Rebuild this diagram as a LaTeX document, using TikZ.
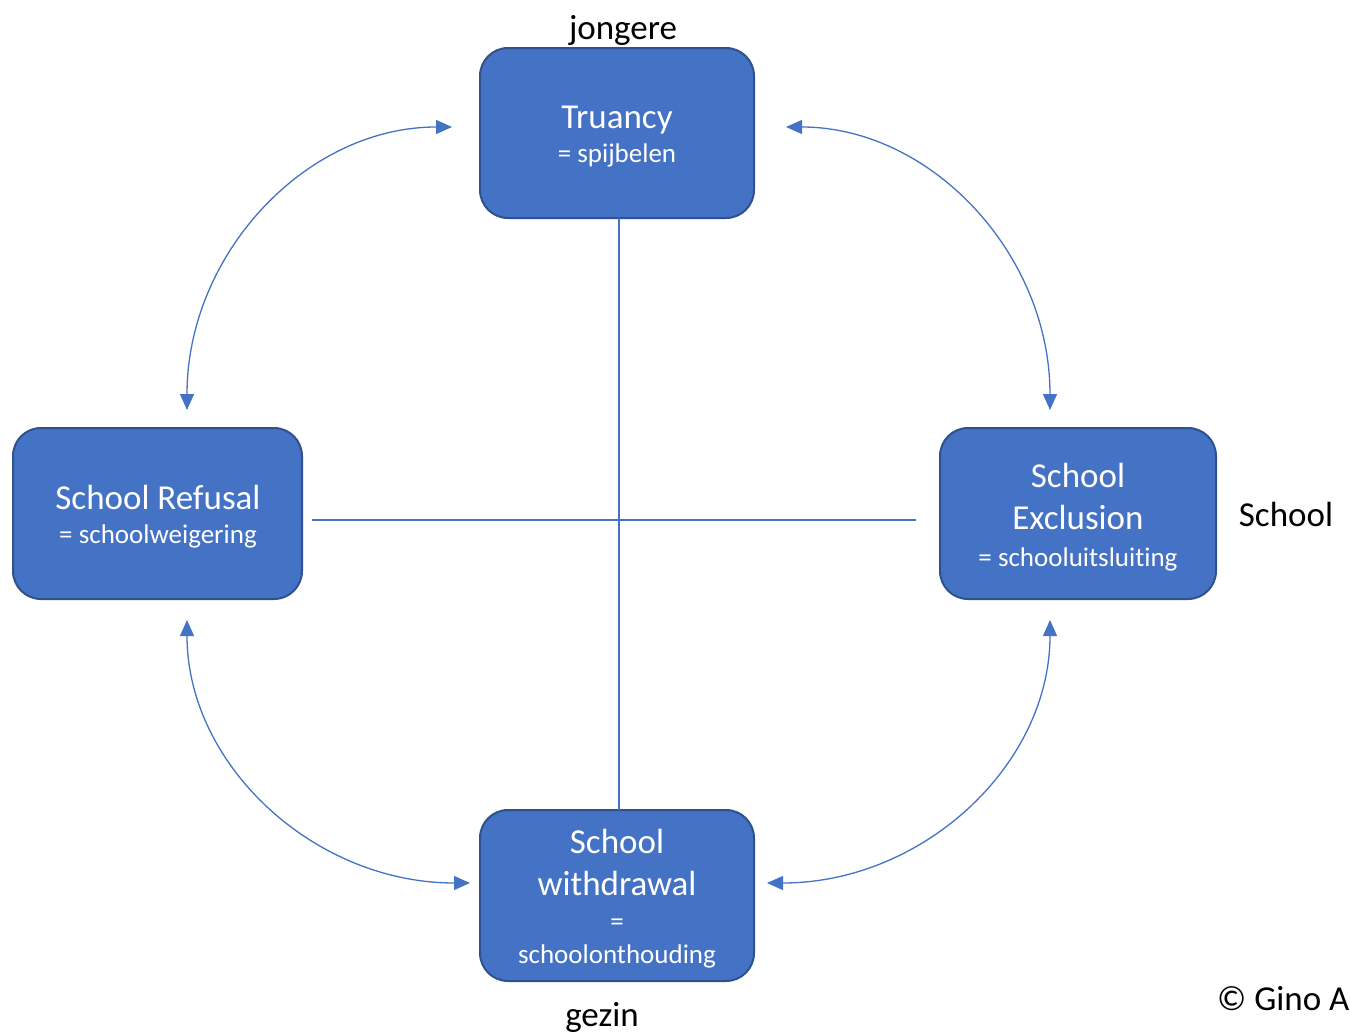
\documentclass[tikz,border=0pt]{standalone}
\usepackage{fontspec}
\setmainfont[Ligatures=NoCommon]{Carlito}
\usetikzlibrary{arrows.meta,calc}
\definecolor{boxblue}{HTML}{4472C4}
\definecolor{boxedge}{HTML}{2F528F}
\tikzset{
  box/.style={draw=boxedge, line width=2pt, fill=boxblue, rounded corners=28pt, inner sep=0pt},
  ttl/.style={text=white, anchor=base, inner sep=0pt, font=\fontsize{35}{42}\selectfont},
  sub/.style={text=white, anchor=base, inner sep=0pt, font=\fontsize{27}{32}\selectfont},
  lbl/.style={text=black, anchor=base, inner sep=0pt, font=\fontsize{35}{42}\selectfont},
  axis/.style={draw=boxblue, line width=1.3pt},
  arc/.style={draw=boxblue, line width=1.3pt, {Triangle[length=16pt,width=14pt]}-{Triangle[length=16pt,width=14pt]}}
}
\begin{document}
\begin{tikzpicture}[x=1pt,y=-1pt]
\useasboundingbox (0,0) rectangle (1350,1036);
% boxes
\node[box, minimum width=274pt, minimum height=170pt] (t) at (617,133) {};
\node[box, minimum width=289pt, minimum height=171pt] (r) at (157.5,513.5) {};
\node[box, minimum width=276pt, minimum height=171pt] (e) at (1078,513.5) {};
\node[box, minimum width=274pt, minimum height=171pt] (w) at (617,895.5) {};
% axes
\coordinate (hl) at (312,520);
\coordinate (hr) at (916,520);
\coordinate (vt) at (619,218);
\coordinate (vb) at (619,810);
\draw[axis] (vt) -- (vb);
\draw[axis] (hl) -- (hr);
% box texts
\node[ttl] (t1) at (617,128) {Truancy};
\node[sub] (t2) at (617,162) {= spijbelen};
\node[ttl] (r1) at (158,509) {School Refusal};
\node[sub] (r2) at (158,543) {= schoolweigering};
\node[ttl] (e1) at (1078,487) {School};
\node[ttl] (e2) at (1078,529) {Exclusion};
\node[sub] (e3) at (1078,566) {= schooluitsluiting};
\node[ttl] (w1) at (617,853) {School};
\node[ttl] (w2) at (617,895) {withdrawal};
\node[sub] (w3) at (617,930) {=};
\node[sub] (w4) at (617,963) {schoolonthouding};
% outer labels
\node[lbl] (lj) at (623,39) {jongere};
\node[lbl] (ls) at (1286,526) {School};
\node[lbl] (lg) at (602,1026) {gezin};
\node[lbl, anchor=base west] (lc) at (1217,1010) {© Gino A};
% arcs
\coordinate (a1) at (452,127);
\coordinate (a2) at (187,410);
\coordinate (b1) at (786,127);
\coordinate (b2) at (1050,410);
\coordinate (c1) at (187,620);
\coordinate (c2) at (470,883);
\coordinate (d1) at (1050,620);
\coordinate (d2) at (767,883);
\draw[arc] (a1) .. controls (306,127) and (187,254) .. (a2);
\draw[arc] (b1) .. controls (931,127) and (1050,254) .. (b2);
\draw[arc] (c1) .. controls (187,765) and (314,883) .. (c2);
\draw[arc] (d1) .. controls (1050,765) and (923,883) .. (d2);
\end{tikzpicture}
\end{document}
